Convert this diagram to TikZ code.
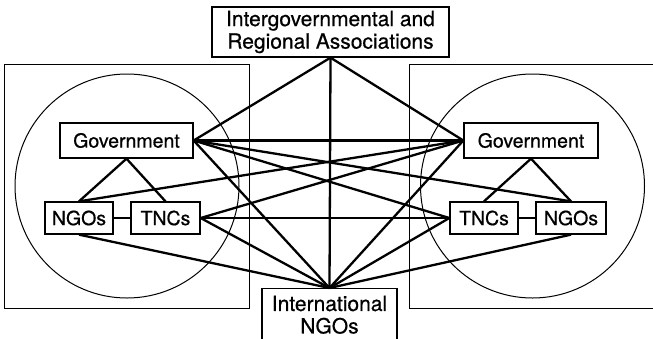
\documentclass[tikz,border=0pt]{standalone}
\usepackage{fontspec}
\setmainfont{TeX Gyre Heros}[BoldFont={TeX Gyre Heros},BoldFeatures={FakeBold=0.6}]
\begin{document}
\begin{tikzpicture}[x=1pt,y=-1pt,
  box/.style={draw,line width=1.3pt,inner sep=0pt,font=\fontsize{19.5}{22}\selectfont\bfseries},
  hub/.style={draw,line width=1.3pt,align=center,font=\fontsize{21}{22.5}\selectfont\bfseries},
  link/.style={line width=2.3pt},
  frame/.style={line width=1pt}]
\useasboundingbox (0,0) rectangle (653,338);
% frames and circles
\draw[frame] (4,64) rectangle (249,308);
\draw[frame] (409,64) rectangle (680,308);
\draw[frame] (127,186) circle[radius=112pt];
\draw[frame] (532.5,186) circle[radius=112pt];
% hub nodes
\node[hub,minimum width=237pt,minimum height=50pt,inner sep=0pt] (igo) at (330.5,32) {Intergovernmental and\\Regional Associations};
\node[hub,anchor=north,minimum width=135pt,inner xsep=0pt,inner ysep=7pt] (ingo) at (329.5,288) {International\\NGOs};
% left cluster
\node[box,minimum width=133pt,minimum height=35pt] (lgov) at (126.5,140.5) {Government};
\node[box,minimum width=68pt,minimum height=32pt] (lngo) at (79,218) {NGOs};
\node[box,minimum width=69pt,minimum height=32pt] (ltnc) at (165.5,218) {TNCs};
% right cluster
\node[box,minimum width=134pt,minimum height=35pt] (rgov) at (531,140.5) {Government};
\node[box,minimum width=68pt,minimum height=32pt] (rtnc) at (484,218) {TNCs};
\node[box,minimum width=70pt,minimum height=32pt] (rngo) at (571,218) {NGOs};
% internal links
\draw[link] (lngo.north) -- (lgov.south) -- (ltnc.north);
\draw[link] (lngo) -- (ltnc);
\draw[link] (rtnc.north) -- (rgov.south) -- (rngo.north);
\draw[link] (rtnc) -- (rngo);
% cross links
\draw[link] (igo.south) -- (ingo.north);
\draw[link] (igo.south) -- (lgov.east);
\draw[link] (igo.south) -- (rgov.west);
\draw[link] (lgov.east) -- (rgov.west);
\draw[link] (lgov.east) -- (rngo.north);
\draw[link] (lgov.east) -- (rtnc.west);
\draw[link] (lgov.east) -- (ingo.north);
\draw[link] (lngo.north) -- (rgov.west);
\draw[link] (ltnc.east) -- (rgov.west);
\draw[link] (ltnc.east) -- (rtnc.west);
\draw[link] (ltnc.east) -- (ingo.north);
\draw[link] (lngo.south) -- (ingo.north);
\draw[link] (rgov.west) -- (ingo.north);
\draw[link] (rtnc.west) -- (ingo.north);
\draw[link] (rngo.south) -- (ingo.north);
\end{tikzpicture}
\end{document}
